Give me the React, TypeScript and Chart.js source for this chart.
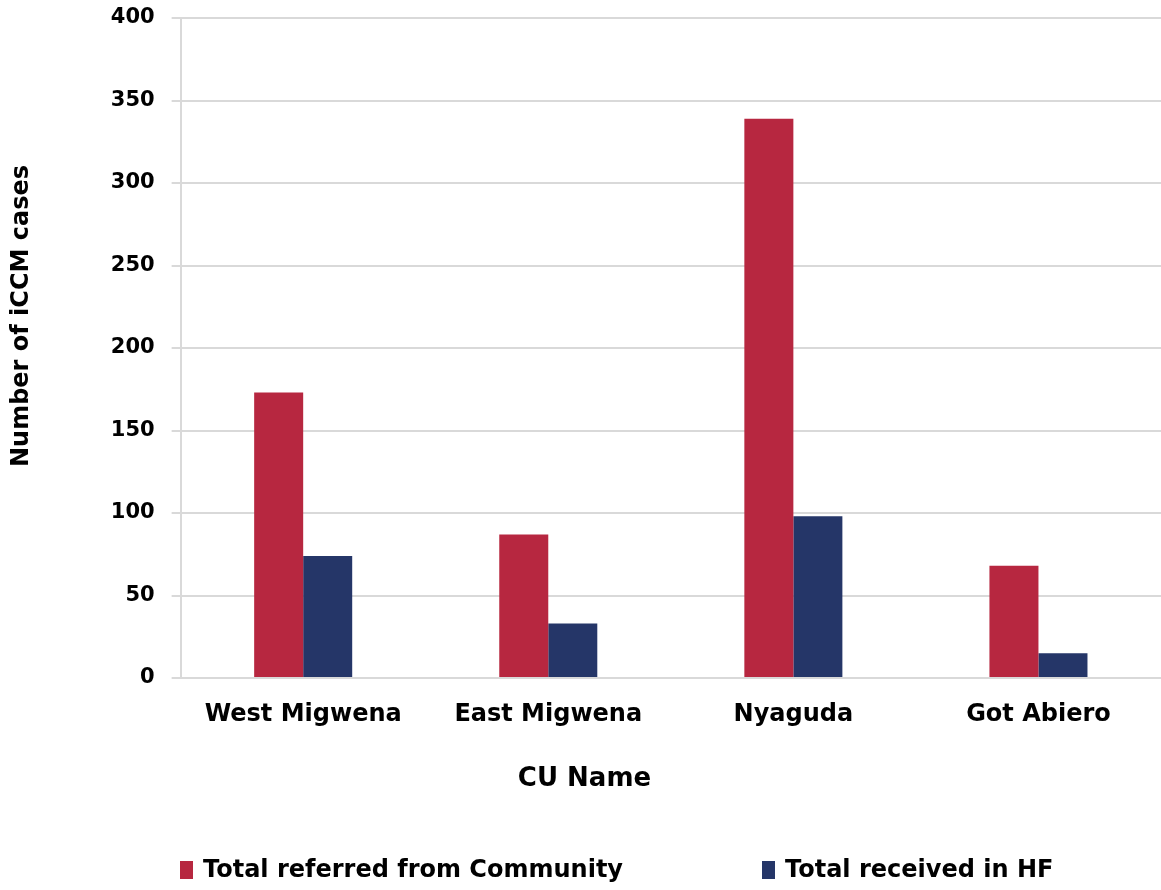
import React, { useEffect, useRef } from "react";
import { Chart, registerables } from "chart.js";

Chart.register(...registerables);

const categories = ["West Migwena", "East Migwena", "Nyaguda", "Got Abiero"];
const referredFromCommunity = [173, 87, 339, 68];
const receivedInHF = [74, 33, 98, 15];
const yTicks = [0, 50, 100, 150, 200, 250, 300, 350, 400];

const FONT = "'DejaVu Sans', sans-serif";
const Y_TITLE = "Number of iCCM cases";
const legendItemX = [180, 762];
const legendY = 870;

const decorations = {
  id: "decorations",
  afterDraw(chart: any) {
    const ctx = chart.ctx;
    ctx.save();
    // legend
    ctx.font = `bold 24px ${FONT}`;
    ctx.textBaseline = "middle";
    ctx.textAlign = "left";
    chart.data.datasets.forEach((ds: any, i: number) => {
      const x = legendItemX[i];
      ctx.fillStyle = ds.backgroundColor;
      ctx.fillRect(x, legendY - 9, 13, 18);
      ctx.fillStyle = "#000";
      ctx.fillText(ds.label, x + 23, legendY + 1);
    });
    // y-axis title
    ctx.translate(22, 316);
    ctx.rotate(-Math.PI / 2);
    ctx.textAlign = "center";
    ctx.font = `bold 24px ${FONT}`;
    ctx.fillText(Y_TITLE, 0, 0);
    ctx.restore();
  },
};

export default function App() {
  const ref = useRef<HTMLCanvasElement | null>(null);
  useEffect(() => {
    if (!ref.current) return;
    const chart = new Chart(ref.current, {
      type: "bar",
      data: {
        labels: categories,
        datasets: [
          {
            label: "Total referred from Community",
            data: referredFromCommunity,
            backgroundColor: "#B72740",
            borderWidth: 0,
          },
          {
            label: "Total received in HF",
            data: receivedInHF,
            backgroundColor: "#253668",
            borderWidth: 0,
          },
        ],
      },
      options: {
        animation: false,
        responsive: false,
        maintainAspectRatio: false,
        layout: { padding: { top: 18, right: 0, left: 8, bottom: 60 } },
        datasets: {
          bar: { categoryPercentage: 0.4, barPercentage: 1 },
        },
        plugins: {
          tooltip: { enabled: false },
          legend: { display: false },
          title: {
            display: true,
            position: "bottom",
            text: "CU Name",
            color: "#000",
            font: { family: FONT, size: 26, weight: "bold" },
            padding: { top: 21, bottom: 35 },
          },
        },
        scales: {
          x: {
            grid: { display: false },
            border: { display: true, color: "#d9d9d9", width: 2 },
            ticks: {
              color: "#000",
              font: { family: FONT, size: 24, weight: "bold" },
              padding: 14,
            },
          },
          y: {
            min: 0,
            max: 400,
            afterBuildTicks: (axis: any) => {
              axis.ticks = yTicks.map((v) => ({ value: v }));
            },
            afterFit: (axis: any) => {
              axis.paddingTop = 0;
              axis.paddingBottom = 0;
            },
            grid: { color: "#d9d9d9", lineWidth: 2, tickLength: 9 },
            border: { display: true, color: "#d9d9d9", width: 2 },
            ticks: {
              color: "#000",
              font: { family: FONT, size: 21, weight: "bold" },
              padding: 17,
            },
            title: {
              display: true,
              text: Y_TITLE,
              color: "rgba(0,0,0,0)",
              font: { family: FONT, size: 24, weight: "bold" },
              padding: { top: 0, bottom: 57 },
            },
          },
        },
      },
      plugins: [decorations],
    });
    return () => chart.destroy();
  }, []);
  return (
    <div style={{ position: "absolute", left: 0, top: 0, width: 1161, height: 890, background: "#fff" }}>
      <canvas ref={ref} width={1161} height={890} style={{ display: "block" }} />
    </div>
  );
}
